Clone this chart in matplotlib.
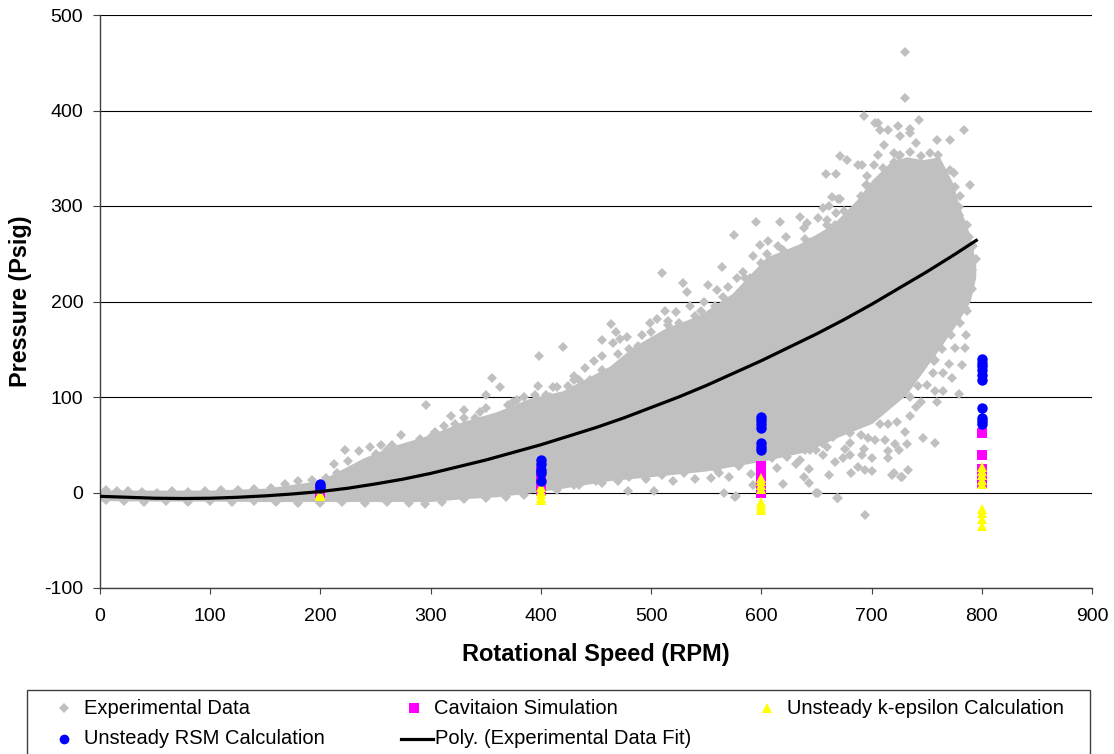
import numpy as np
import matplotlib
matplotlib.use('Agg')
import matplotlib.pyplot as plt
from matplotlib.lines import Line2D
from matplotlib.patches import Rectangle

plt.rcParams['font.family'] = ['Liberation Sans', 'DejaVu Sans']
plt.rcParams['axes.unicode_minus'] = False

core_hi_x = [0, 50, 100, 150, 200, 240, 265, 300, 330, 360, 390, 420, 463, 484, 514, 544, 574, 605, 635, 665,
             687, 701, 717, 732, 747, 762, 774, 780, 790, 795]
core_hi = [2, 2, 2, 4, 12, 36, 48, 60, 74, 84, 98, 106, 132, 152, 172, 185, 208, 246, 260, 280,
           306, 327, 345, 351, 348, 351, 324, 300, 268, 240]
core_lo_x = [0, 50, 100, 150, 200, 250, 300, 330, 360, 390, 420, 463, 500, 550, 600, 640, 671, 701, 732, 747,
             762, 777, 790, 795]
core_lo = [-9, -9.5, -9.5, -10, -10, -10, -10, -7, -5, -1, 4, 12, 16, 22, 32, 42, 58, 72, 102, 126,
           150, 175, 200, 225]

# individual diamonds around the outline
exp_points = [
    # top outliers
    (730, 461), (730, 413), (693, 394), (703, 387), (706, 387), (724, 384), (743, 390), (735, 381),
    (784, 380), (708, 380), (715, 380), (735, 376), (771, 369), (759, 369), (726, 373), (711, 364),
    (740, 366), (753, 355), (735, 357), (720, 355), (726, 353), (706, 353), (678, 348), (671, 352),
    (691, 343), (702, 343), (720, 346), (771, 338), (696, 331), (789, 322), (776, 320), (696, 322),
    (779, 299), (779, 291), (783, 282), (788, 268), (671, 307), (690, 310), (681, 292), (676, 280),
    (785, 243), (791, 233), (782, 224), (790, 214), (659, 334), (668, 334), (688, 343),
    (664, 309), (670, 307), (656, 298), (661, 300), (668, 293), (680, 292), (595, 283), (617, 283),
    (635, 289), (641, 282), (639, 277), (651, 287), (660, 280), (667, 280), (678, 280),
    # upper edge, right of 450
    (575, 270), (510, 230), (564, 236), (529, 219), (533, 210), (552, 217), (560, 212), (570, 215),
    (583, 231), (592, 248), (599, 259), (606, 263), (622, 268), (620, 254), (513, 190), (523, 189),
    (499, 177), (505, 182), (515, 175), (464, 176), (468, 168), (478, 163), (472, 161), (465, 157),
    (455, 160), (488, 153), (420, 152), (398, 143), (356, 120), (363, 110), (350, 102), (397, 112),
    (408, 100), (411, 110), (378, 97), (386, 88), (330, 86), (318, 80), (296, 92), (312, 70),
    (448, 138), (455, 143), (440, 130), (430, 122), (445, 118), (492, 165), (535, 195), (548, 200),
    (540, 185), (578, 225), (590, 225), (612, 240), (630, 250), (645, 262), (655, 268), (525, 178),
    (558, 195), (605, 250), (480, 150), (500, 168), (470, 145), (425, 112), (435, 118), (455, 128),
    (405, 102), (385, 100), (370, 92), (345, 84), (515, 180), (545, 190), (565, 205), (585, 225),
    (600, 240), (615, 258), (640, 265), (660, 285), (675, 295), (695, 322), (710, 340), (725, 352),
    (745, 352), (760, 353), (775, 335), (780, 310), (787, 280), (792, 258), (795, 245),
    # upper edge, left of 400
    (273, 60), (265, 50), (255, 50), (245, 48), (235, 43), (222, 45), (212, 30), (225, 33),
    (283, 47), (290, 56), (304, 63), (322, 72), (340, 78), (290, 50), (300, 58), (250, 40), (260, 44),
    (330, 78), (350, 88), (375, 95), (395, 102), (415, 110), (430, 118),
    (5, 3), (15, 2), (25, 2), (38, 1), (52, 0), (65, 2), (80, 1), (95, 2), (110, 3), (125, 3),
    (140, 4), (155, 5), (168, 9), (180, 12), (192, 13), (205, 15), (215, 20),
    # lower edge
    (5, -8), (22, -9), (40, -10), (60, -9), (80, -10), (100, -9), (120, -10), (140, -9), (160, -10),
    (180, -11), (200, -11), (220, -10), (240, -11), (260, -10), (280, -11), (295, -12), (310, -10),
    (330, -7), (350, -6), (368, -5), (385, -3), (415, 3), (435, 8), (455, 10), (470, 12), (479, 2),
    (503, 2), (495, 14), (520, 12), (540, 14), (430, 8), (450, 12), (480, 16), (510, 18), (530, 20),
    (560, 24), (580, 28), (610, 36), (625, 42), (640, 45), (655, 52), (665, 58), (680, 62),
    # lower outliers
    (694, -24), (670, -6), (651, 0), (576, -5), (592, 8), (733, 24), (728, 16), (719, 18),
    (635, 34), (644, 44), (656, 39), (667, 32), (680, 39), (694, 24), (661, 18), (554, 15), (566, 0),
    (577, -4), (571, 16), (579, 29), (591, 19), (631, 30), (620, 9), (643, 25), (639, 16), (643, 10),
    (650, 0), (669, -6), (614, 26), (623, 37), (610, 38), (600, 32), (586, 35), (562, 20),
    # under the lower edge of the dense part, 670 to 795
    (791, 213), (785, 193), (786, 165), (776, 151), (785, 151), (782, 134), (758, 139), (749, 139),
    (773, 120), (743, 127), (756, 125), (750, 113), (765, 106), (779, 103), (758, 106), (759, 95),
    (740, 90), (723, 74), (708, 72), (715, 72), (730, 63), (747, 57), (758, 52), (697, 57), (712, 55),
    (721, 51), (732, 51), (703, 55), (676, 46), (693, 46), (715, 43), (725, 44), (691, 39), (700, 36),
    (715, 36), (674, 36), (688, 27), (681, 20), (700, 22), (720, 20), (727, 16), (735, 80), (745, 95),
    (770, 135), (765, 125), (690, 60), (680, 52), (660, 48), (650, 45), (735, 100), (742, 112),
    (757, 138), (764, 150), (772, 165), (780, 178), (787, 190),
]
exp_x = [p[0] for p in exp_points]
exp_y = [p[1] for p in exp_points]

# simulation results, all at the four test speeds
cav_x = [200]*4 + [400]*5 + [600]*8 + [800]*6
cav_y = [4, 2, 0, -2, 22, 15, 10, 5, 2, 28, 24, 20, 15, 10, 5, 1, 0, 62, 39, 25, 20, 15, 10]
keps_x = [200]*3 + [400]*5 + [600]*8 + [800]*9
keps_y = [-4, -3, -2, 6, 2, -2, -6, -8, 15, 12, 8, 4, -10, -13, -16, -18, 27, 22, 18, 13, 9, -17, -21, -28, -35]
rsm_x = [200]*3 + [400]*5 + [600]*7 + [800]*10
rsm_y = [5, 7, 9, 34, 30, 24, 20, 12, 79, 76, 72, 68, 52, 48, 44, 140, 136, 132, 128, 123, 118, 88, 78, 75, 72]

# polynomial fit line, read every 25 rpm
fit_x = [0, 25, 50, 75, 100, 125, 150, 175, 200, 225, 250, 275, 300, 325, 350, 375, 400,
         425, 450, 475, 500, 525, 550, 575, 600, 625, 650, 675, 700, 725, 750, 775, 795]
fit_y = [-4, -5, -6, -6.3, -6, -5, -3.5, -1.5, 1, 4.5, 9, 14, 20, 27, 34, 42, 50,
         59, 68, 78, 89, 100, 112, 125, 138, 152, 166, 181, 197, 214, 231, 249, 264]

grey = '#C0C0C0'
W, H = 1114, 754

fig = plt.figure(figsize=(W/100, H/100), dpi=100)
ax = fig.add_axes([100/W, 1 - 588/H, 992/W, 573/H])

ax.fill(core_hi_x + core_lo_x[::-1], core_hi + core_lo[::-1], color=grey, linewidth=0, zorder=2)
ax.plot(exp_x, exp_y, 'D', color=grey, markersize=5.6, markeredgewidth=0, zorder=2)
ax.plot(cav_x, cav_y, 's', color='#FF00FF', markersize=7.2, markeredgewidth=0, zorder=3)
ax.plot(keps_x, keps_y, '^', color='#FFFF00', markersize=7.5, markeredgewidth=0, zorder=4)
ax.plot(rsm_x, rsm_y, 'o', color='#0000FF', markersize=7.5, markeredgewidth=0, zorder=5)
ax.plot(fit_x, fit_y, color='black', linewidth=2.3, zorder=6)

ax.set_xlim(0, 900)
ax.set_ylim(-100, 500)
ax.set_xticks(range(0, 901, 100))
ax.set_yticks(range(-100, 501, 100))
ax.grid(True, axis='y', color='black', linewidth=0.8, zorder=1)
ax.set_axisbelow(True)
for side in ['top', 'right']:
    ax.spines[side].set_visible(False)
for side in ['left', 'bottom']:
    ax.spines[side].set_color('#404040')
    ax.spines[side].set_linewidth(1.0)
ax.tick_params(axis='y', labelsize=14, length=5, width=0.8, color='#404040', pad=7)
ax.tick_params(axis='x', labelsize=14, length=4.5, width=0.8, color='#404040', pad=10)
ax.set_xlabel('Rotational Speed (RPM)', fontsize=17, fontweight='bold', labelpad=13)
ax.set_ylabel('Pressure (Psig)', fontsize=16.8, fontweight='bold', labelpad=8.5)


# legend box runs off the bottom of the picture, so it is laid out by hand in pixels
def fx(px):
    return px/W


def fy(py):
    return 1 - py/H


fig.add_artist(Rectangle((fx(27), fy(760)), 1063/W, 70/H, transform=fig.transFigure,
                         facecolor='white', edgecolor='#404040', linewidth=1.0))
legend_rows = [
    (64, 708, 'D', grey, 5, 'Experimental Data'),
    (414, 708, 's', '#FF00FF', 7, 'Cavitaion Simulation'),
    (767, 708, '^', '#FFFF00', 7.5, 'Unsteady k-epsilon Calculation'),
    (64, 739, 'o', '#0000FF', 7, 'Unsteady RSM Calculation'),
]
for px, py, mk, col, ms, label in legend_rows:
    fig.add_artist(Line2D([fx(px)], [fy(py)], marker=mk, color=col, markersize=ms,
                          markeredgewidth=0, linestyle='none', transform=fig.transFigure))
    fig.text(fx(px + 20), fy(py), label, fontsize=14.5, va='center', ha='left')
fig.add_artist(Line2D([fx(401), fx(433)], [fy(739), fy(739)], color='black', linewidth=2.3,
                      transform=fig.transFigure))
fig.text(fx(435), fy(739), 'Poly. (Experimental Data Fit)', fontsize=14.5, va='center', ha='left')

fig.savefig('out.png', dpi=100)
